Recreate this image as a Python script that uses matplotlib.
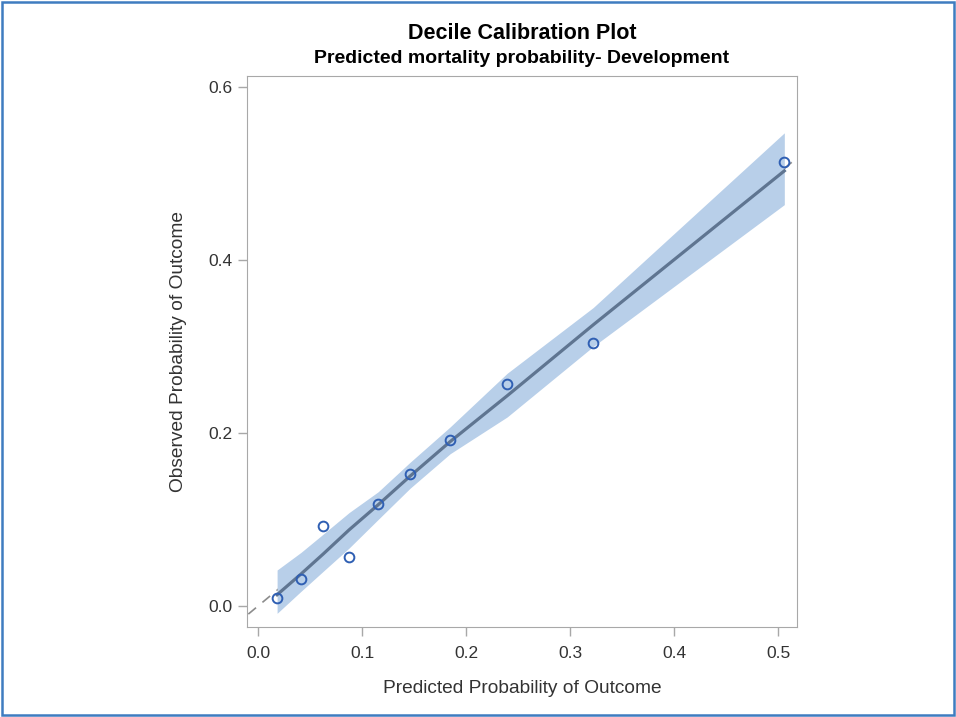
import numpy as np
import matplotlib.pyplot as plt
from matplotlib.patches import Rectangle

plt.rcParams['font.family'] = ['Liberation Sans', 'DejaVu Sans']

# decile means
pred = [0.0183, 0.0413, 0.0625, 0.0875, 0.1154, 0.146, 0.1846, 0.2394, 0.3221, 0.5058]
obs = [0.0092, 0.0312, 0.0925, 0.0566, 0.1179, 0.1526, 0.1919, 0.2566, 0.304, 0.5133]

# smoothed fit and confidence band at the decile positions
fit = [0.013, 0.037, 0.060, 0.088, 0.117, 0.150, 0.190, 0.243, 0.325, 0.503]
band_hi = [0.0416, 0.062, 0.083, 0.108, 0.132, 0.166, 0.207, 0.269, 0.345, 0.547]
band_lo = [-0.0085, 0.017, 0.040, 0.067, 0.100, 0.136, 0.176, 0.2185, 0.300, 0.464]

fig = plt.figure(figsize=(9.56, 7.17), dpi=100)
ax = fig.add_axes([0.2584, 0.1255, 0.5753, 0.7685])

ax.plot([-0.05, 0.7], [-0.05, 0.7], linestyle=(0, (6, 5)), color='#8c8c8c', lw=1.2, zorder=1)
ax.fill_between(pred, band_lo, band_hi, color='#b8cfe9', lw=0, zorder=2)
ax.plot(pred, fit, color='#5f7591', lw=2.3, zorder=3)
ax.plot(pred, obs, 'o', ms=7, mfc='none', mec='#2f5fb3', mew=1.4, zorder=4)

ax.set_xlim(-0.0106, 0.518)
ax.set_ylim(-0.0243, 0.6127)
ax.set_xticks([0.0, 0.1, 0.2, 0.3, 0.4, 0.5])
ax.set_yticks([0.0, 0.2, 0.4, 0.6])
ax.xaxis.set_major_formatter(plt.FormatStrFormatter('%.1f'))
ax.yaxis.set_major_formatter(plt.FormatStrFormatter('%.1f'))

for s in ax.spines.values():
    s.set_color('#a8a8a8')
ax.tick_params(colors='#a8a8a8', labelcolor='#333333', labelsize=12.5, length=6.5, width=1)
ax.tick_params(axis='x', pad=7.5)
ax.tick_params(axis='y', pad=4)

ax.set_xlabel('Predicted Probability of Outcome', fontsize=13.8, color='#333333', labelpad=13)
ax.set_ylabel('Observed Probability of Outcome', fontsize=13.8, color='#333333', labelpad=15)

fig.text(0.546, 0.953, 'Decile Calibration Plot', ha='center', va='center',
         fontsize=15.5, fontweight='bold')
fig.text(0.546, 0.918, 'Predicted mortality probability- Development', ha='center', va='center',
         fontsize=14, fontweight='bold')

fig.patches.append(Rectangle((0.002, 0.003), 0.996, 0.994, transform=fig.transFigure,
                             fill=False, edgecolor='#3f7cc0', lw=1.8))

plt.savefig('out.png', dpi=100)
plt.close()
